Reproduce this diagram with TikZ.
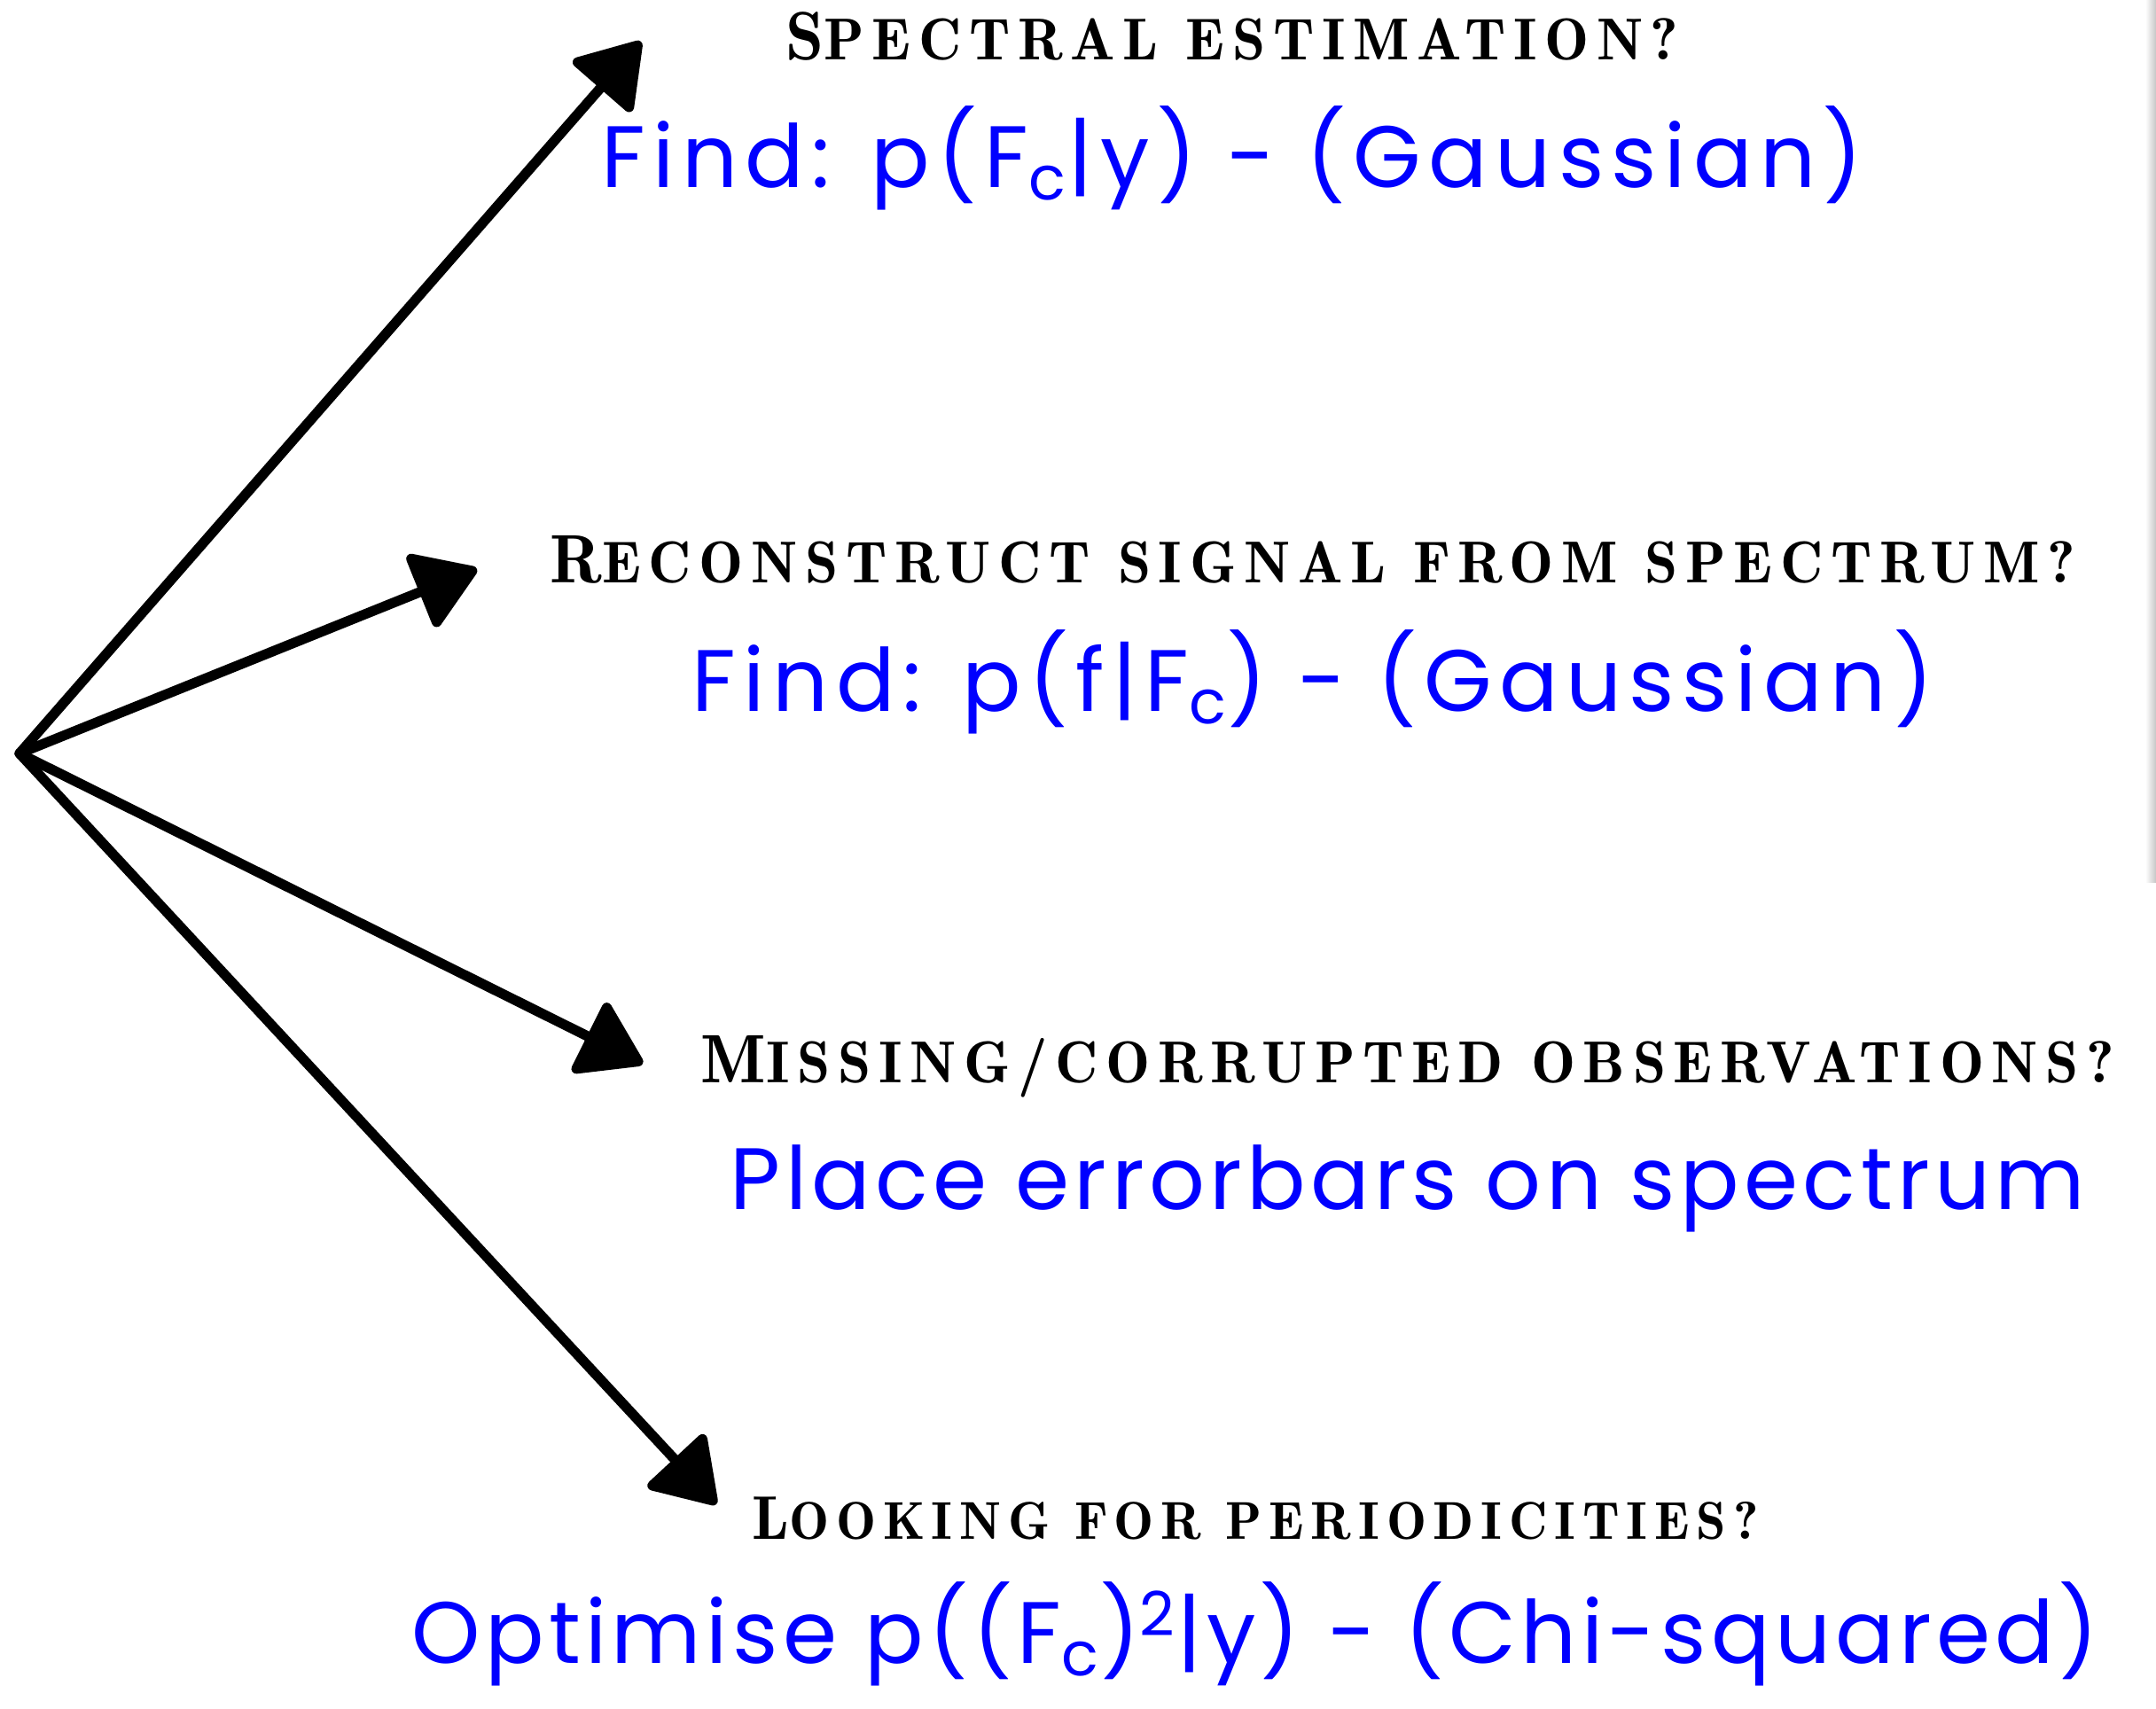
\documentclass[tikz,border=0pt]{standalone}
\usepackage{fontspec}
\usetikzlibrary{arrows.meta, positioning}

\newfontfamily\headfont{lmromandemi10-regular.otf}[LetterSpace=13]
\newfontfamily\handfont{Poppins}[LetterSpace=5.5]
\newcommand{\initcap}[2][22.0]{{\fontsize{#1}{24}\selectfont #2}}

\begin{document}
\begin{tikzpicture}[
    question/.style={font=\headfont\fontsize{19.0}{21}\selectfont,
                     inner sep=0pt, anchor=base},
    answer/.style={font=\handfont\fontsize{28}{32}\selectfont,
                   text=blue, inner sep=0pt},
    wideanswer/.style={answer, font=\handfont\addfontfeature{LetterSpace=8.6}%
                       \fontsize{28}{32}\selectfont},
    chalk/.style={line width=3.2pt, line cap=round,
                  -{Triangle[length=7.5mm, width=9.5mm, round]}}
  ]
  \useasboundingbox (0,0) rectangle (24.32,19.28);
  \shade[left color=white, right color=gray!45]
    (24.20,19.28) rectangle (24.32,9.32);

  % questions
  \node[question] (q1) at (13.90,18.60) {\initcap{S}PECTRAL ESTIMATION?};
  \node[question] (q2) at (14.81,12.70)
    {\initcap{R}ECONSTRUCT SIGNAL FROM SPECTRUM?};
  \node[question] (q3) at (15.88,7.06)
    {\initcap{M}ISSING/CORRUPTED OBSERVATIONS?};
  \node[question, font=\headfont\fontsize{17.1}{19}\selectfont] (q4)
    at (14.16,1.91) {\initcap[19.8]{L}OOKING FOR PERIODICITIES?};

  % answers
  \node[wideanswer, below=1.44cm of q1.base, anchor=base] (a1)
    {Find: p(F\textsubscript{c}|y) - (Gaussian)};
  \node[wideanswer, below=1.45cm of q2.base, anchor=base] (a2)
    {Find: p(f|F\textsubscript{c}) - (Gaussian)};
  \node[answer, below=1.43cm of q3.base, anchor=base] (a3)
    {Place errorbars on spectrum};
  \node[answer, below=1.40cm of q4.base, anchor=base] (a4)
    {Optimise p((F\textsubscript{c})\textsuperscript{2}|y) - (Chi-squared)};

  % arrows
  \coordinate (hub) at (0.22,10.78);
  \coordinate (tip1) at (7.23,18.81);
  \coordinate (tip2) at (5.38,12.86);
  \coordinate (tip3) at (7.25,7.28);
  \coordinate (tip4) at (8.08,2.31);
  \foreach \t in {1,...,4}
    \draw[chalk] (hub) -- (tip\t);
\end{tikzpicture}
\end{document}
